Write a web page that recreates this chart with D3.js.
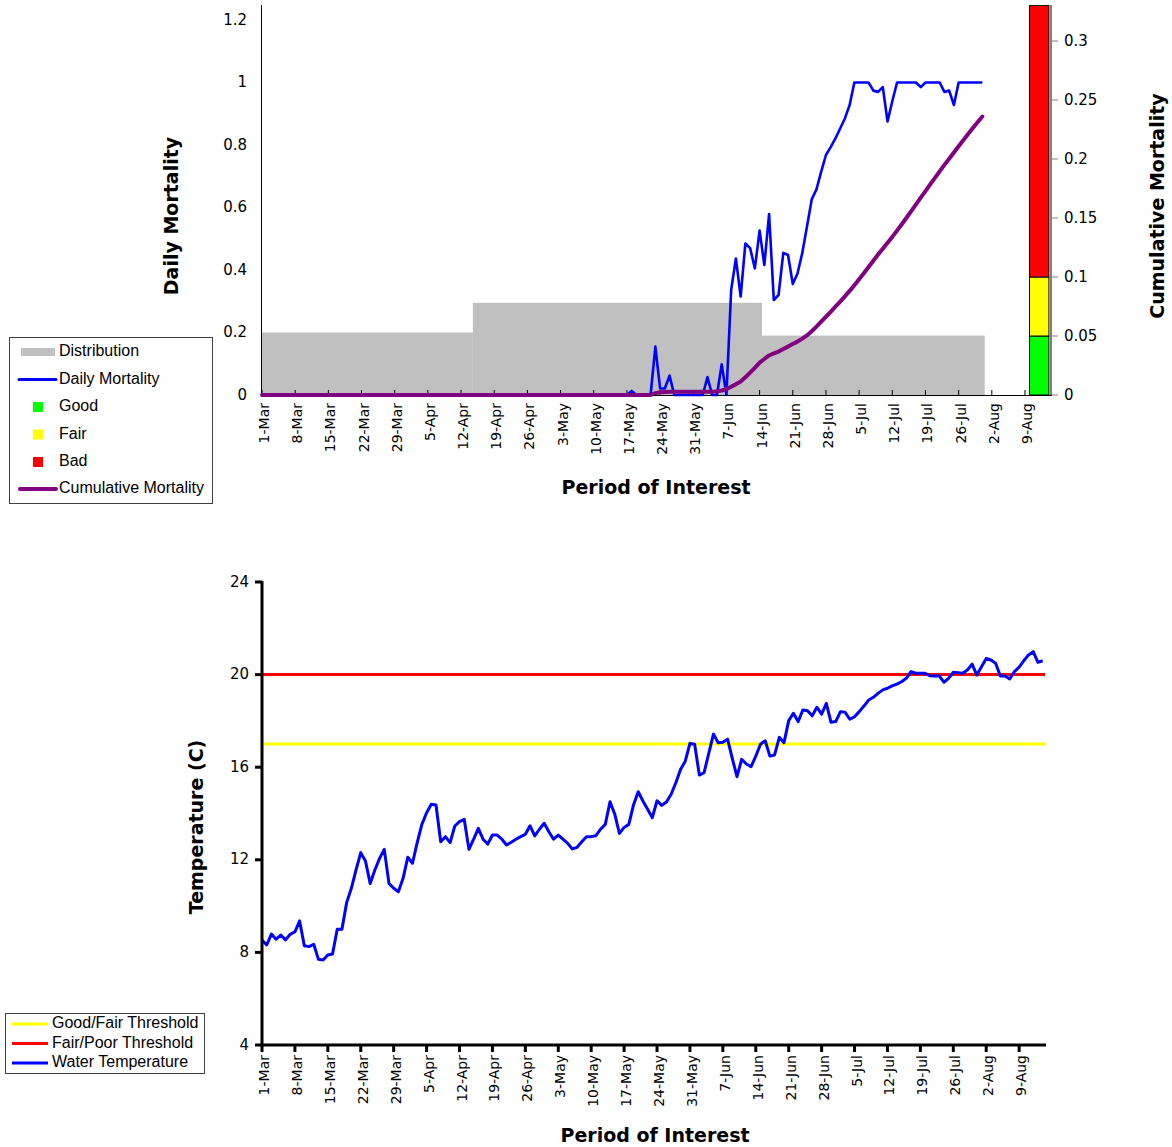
<!DOCTYPE html>
<html>
<head>
<meta charset="utf-8">
<script src="https://cdn.jsdelivr.net/npm/d3@7"></script>
<style>
  html, body { margin: 0; padding: 0; background: #fff; }
  svg { display: block; }
</style>
</head>
<body>
<svg id="chart" width="1172" height="1147"></svg>
<script>
// ---- Data -------------------------------------------------------------
const seasonStart = "1-Mar";            // first day of every daily series
const tickLabels = ["1-Mar","8-Mar","15-Mar","22-Mar","29-Mar","5-Apr","12-Apr","19-Apr",
  "26-Apr","3-May","10-May","17-May","24-May","31-May","7-Jun","14-Jun","21-Jun","28-Jun",
  "5-Jul","12-Jul","19-Jul","26-Jul","2-Aug","9-Aug"];

// Daily mortality, 1-Mar .. 31-Jul
const dailyMortality = [
  0,0,0,0,0,0,0,0,0,0, 0,0,0,0,0,0,0,0,0,0,
  0,0,0,0,0,0,0,0,0,0, 0,0,0,0,0,0,0,0,0,0,
  0,0,0,0,0,0,0,0,0,0, 0,0,0,0,0,0,0,0,0,0,
  0,0,0,0,0,0,0,0,0,0, 0,0,0,0,0,0,0,0,0.013,0,
  0,0,0,0.155,0.021,0.021,0.062,0,0,0, 0,0,0,0,0.057,0,0,0.098,0,0.336,
  0.437,0.315,0.485,0.47,0.405,0.526,0.416,0.579,0.304,0.32,
  0.455,0.448,0.355,0.389,0.454,0.539,0.626,0.658,0.715,0.768,
  0.793,0.821,0.853,0.885,0.928,1,1,1,1,0.974,
  0.97,0.985,0.875,0.94,1,1,1,1,1,0.985,
  1,1,1,1,0.97,0.974,0.928,1,1,1,
  1,1,1
];

// Cumulative mortality (right axis), 1-Mar .. 31-Jul
const cumulativeMortality = [
  0,0,0,0,0,0,0,0,0,0, 0,0,0,0,0,0,0,0,0,0,
  0,0,0,0,0,0,0,0,0,0, 0,0,0,0,0,0,0,0,0,0,
  0,0,0,0,0,0,0,0,0,0, 0,0,0,0,0,0,0,0,0,0,
  0,0,0,0,0,0,0,0,0,0, 0,0,0,0,0,0,0,0,0,0,
  0,0,0,0.0015,0.0024,0.0026,0.0027,0.0028,0.0028,0.0028,
  0.0028,0.0028,0.0028,0.0028,0.0028,0.0028,0.0032,0.0038,0.0050,0.0070,
  0.0092,0.0115,0.0150,0.0190,0.0230,0.0275,0.0305,0.0335,0.0352,0.0368,
  0.0390,0.0410,0.0432,0.0452,0.0478,0.0505,0.0540,0.0580,0.0622,0.0663,
  0.0705,0.0748,0.0792,0.0836,0.0882,0.0930,0.0980,0.1032,0.1085,0.1138,
  0.1190,0.1240,0.1290,0.1340,0.1393,0.1447,0.1502,0.1558,0.1615,0.1672,
  0.1728,0.1785,0.1840,0.1895,0.1950,0.2002,0.2055,0.2108,0.2160,0.2212,
  0.2263,0.2312,0.2360
];

// Distribution periods
const distStart = ["1-Mar", "15-Apr", "15-Jun"];
const distEnd   = ["14-Apr", "14-Jun", "31-Jul"];
const distValue = [0.2, 0.295, 0.19];

// Cumulative mortality condition bands
const bandNames  = ["Good", "Fair", "Bad"];
const bandLow    = [0, 0.05, 0.1];
const bandHigh   = [0.05, 0.1, 0.33];
const bandColors = ["#00ff00", "#ffff00", "#ff0000"];
const bandDate   = "12-Aug";

// Water temperature (C), 1-Mar .. 14-Aug
const waterTemp = [
  8.54,8.32,8.79,8.57,8.75,8.54,8.78,8.89,9.36,8.29,
  8.25,8.35,7.70,7.67,7.89,7.93,9.0,9.0,10.15,10.77,
  11.56,12.31,11.95,10.98,11.56,12.06,12.45,10.98,10.77,10.62,
  11.2,12.11,11.85,12.74,13.53,14.03,14.40,14.37,12.78,13.0,
  12.74,13.46,13.65,13.75,12.45,12.89,13.36,12.89,12.68,13.07,
  13.07,12.89,12.64,12.76,12.89,13.0,13.10,13.47,13.03,13.32,
  13.58,13.21,12.89,13.07,12.89,12.71,12.47,12.54,12.78,13.0,
  13.0,13.04,13.32,13.53,14.51,13.98,13.14,13.40,13.53,14.37,
  14.94,14.54,14.18,13.82,14.55,14.35,14.5,14.83,15.33,15.9,
  16.26,17.03,16.99,15.66,15.76,16.60,17.43,17.06,17.08,17.21,
  16.38,15.59,16.34,16.14,16.02,16.48,16.99,17.14,16.48,16.53,
  17.29,17.06,18.01,18.33,17.97,18.47,18.44,18.22,18.59,18.29,
  18.76,17.94,17.97,18.40,18.37,18.07,18.18,18.40,18.64,18.90,
  19.02,19.19,19.34,19.41,19.51,19.59,19.69,19.84,20.13,20.06,
  20.06,20.06,19.95,19.94,19.95,19.67,19.84,20.10,20.08,20.06,
  20.20,20.45,19.98,20.34,20.70,20.63,20.49,19.94,19.94,19.81,
  20.13,20.32,20.60,20.85,20.99,20.53,20.60
];

const goodFairThreshold = 17;
const fairPoorThreshold = 20;
const mortTicks = [0, 0.2, 0.4, 0.6, 0.8, 1, 1.2];
const cumTicks  = [0, 0.05, 0.1, 0.15, 0.2, 0.25, 0.3];
const tempTicks = [4, 8, 12, 16, 20, 24];

// ---- Helpers ----------------------------------------------------------
const parseDay = d3.utcParse("%d-%b-%Y");
const toDate = s => parseDay(s + "-2007");
const DAY = 864e5;
const t0 = toDate(seasonStart);
const dayDate = i => new Date(t0.getTime() + i * DAY);
const tickDates = tickLabels.map(toDate);

const svg = d3.select("#chart");
const numFont = "'DejaVu Sans', Verdana, sans-serif";
const legFont = "'Liberation Sans', Arial, sans-serif";
const titleSize = "19px";

function dateAxisLabels(g, x, y0) {
  g.selectAll("text.dl").data(tickLabels).join("text")
    .attr("class", "dl")
    .attr("transform", (d, i) => `translate(${x(tickDates[i]) + 3},${y0}) rotate(-90)`)
    .attr("text-anchor", "end")
    .attr("dominant-baseline", "middle")
    .style("font-family", numFont).style("font-size", "14px").style("fill", "#000")
    .text(d => d);
}

function boldTitle(g, text, x, y, rotate) {
  g.append("text")
    .attr("transform", rotate ? `translate(${x},${y}) rotate(-90)` : `translate(${x},${y})`)
    .attr("text-anchor", "middle")
    .style("font-family", numFont).style("font-size", titleSize).style("font-weight", "bold")
    .text(text);
}

// ---- Upper chart: mortality -------------------------------------------
const topEnd = new Date(t0.getTime() + 166.7 * DAY);
const xTop = d3.scaleUtc().domain([t0, topEnd]).range([262, 1052]);
const yMort = d3.scaleLinear().domain([0, 1.2]).range([395, 20]);
const yCum = d3.scaleLinear().domain([0, 0.3]).range([395, 41]);

const upper = svg.append("g");

// distribution blocks
const distX0 = i => Math.max(xTop.range()[0], xTop(new Date(toDate(distStart[i]).getTime() - 0.5 * DAY)));
const distX1 = i => xTop(new Date(toDate(distEnd[i]).getTime() + 0.5 * DAY));
upper.selectAll("rect.dist").data(distValue).join("rect")
  .attr("class", "dist")
  .attr("x", (d, i) => distX0(i))
  .attr("width", (d, i) => distX1(i) - distX0(i))
  .attr("y", d => yMort(d))
  .attr("height", d => yMort(0) - yMort(d))
  .attr("fill", "#c0c0c0");

// condition band column on the cumulative axis
const bandCenter = toDate(bandDate).getTime();
const bx0 = xTop(new Date(bandCenter - 2.05 * DAY));
const bx1 = xTop(new Date(bandCenter + 2.05 * DAY));
upper.selectAll("rect.band").data(bandNames).join("rect")
  .attr("class", "band")
  .attr("x", bx0).attr("width", bx1 - bx0)
  .attr("y", (d, i) => yCum(bandHigh[i]))
  .attr("height", (d, i) => yCum(bandLow[i]) - yCum(bandHigh[i]))
  .attr("fill", (d, i) => bandColors[i])
  .attr("stroke", "#000").attr("stroke-width", 1);

// left axis line
upper.append("line").attr("x1", 261.5).attr("x2", 261.5).attr("y1", 5).attr("y2", 395)
  .attr("stroke", "#000").attr("stroke-width", 1);
// left tick labels
upper.selectAll("text.ml").data(mortTicks).join("text")
  .attr("class", "ml")
  .attr("x", 247).attr("y", d => yMort(d))
  .attr("text-anchor", "end").attr("dominant-baseline", "middle")
  .style("font-family", numFont).style("font-size", "15px")
  .text(d => d);

// right axis
upper.append("line").attr("x1", 1051).attr("x2", 1051).attr("y1", 5).attr("y2", 395)
  .attr("stroke", "#808080").attr("stroke-width", 2);
upper.selectAll("line.ct").data(cumTicks).join("line")
  .attr("class", "ct")
  .attr("x1", 1051).attr("x2", 1058)
  .attr("y1", d => yCum(d)).attr("y2", d => yCum(d))
  .attr("stroke", "#808080").attr("stroke-width", 1);
upper.selectAll("text.cl").data(cumTicks).join("text")
  .attr("class", "cl")
  .attr("x", 1064).attr("y", d => yCum(d))
  .attr("dominant-baseline", "middle")
  .style("font-family", numFont).style("font-size", "15px")
  .text(d => d);

// horizontal axis
upper.append("line").attr("x1", 261.5).attr("x2", 1052).attr("y1", 395.5).attr("y2", 395.5)
  .attr("stroke", "#000").attr("stroke-width", 1);
upper.selectAll("line.xt").data(tickDates).join("line")
  .attr("class", "xt")
  .attr("x1", d => xTop(d)).attr("x2", d => xTop(d))
  .attr("y1", 390).attr("y2", 395)
  .attr("stroke", "#000").attr("stroke-width", 1);
dateAxisLabels(upper, xTop, 403);

// daily mortality line
upper.append("path")
  .datum(dailyMortality)
  .attr("fill", "none").attr("stroke", "#0000ff").attr("stroke-width", 2.6)
  .attr("stroke-linejoin", "round")
  .attr("d", d3.line().x((d, i) => xTop(dayDate(i))).y(d => yMort(d)));

// cumulative mortality line
upper.append("path")
  .datum(cumulativeMortality)
  .attr("fill", "none").attr("stroke", "#800080").attr("stroke-width", 4)
  .attr("stroke-linejoin", "round").attr("stroke-linecap", "round")
  .attr("d", d3.line().x((d, i) => xTop(dayDate(i))).y(d => yCum(d)));

// titles
boldTitle(upper, "Daily Mortality", 178, 216, true);
boldTitle(upper, "Cumulative Mortality", 1164, 206, true);
boldTitle(upper, "Period of Interest", 656, 494, false);

// upper legend
const leg1 = svg.append("g");
leg1.append("rect").attr("x", 9.5).attr("y", 337.5).attr("width", 203).attr("height", 166)
  .attr("fill", "#fff").attr("stroke", "#404040").attr("stroke-width", 1);
const leg1Items = ["Distribution", "Daily Mortality", "Good", "Fair", "Bad", "Cumulative Mortality"];
const leg1Y = [352, 379.5, 407, 434.5, 462, 489];
leg1Items.forEach((name, i) => {
  const cy = leg1Y[i];
  if (name === "Distribution") {
    leg1.append("rect").attr("x", 21).attr("y", cy - 4).attr("width", 34).attr("height", 8).attr("fill", "#c0c0c0");
  } else if (name === "Daily Mortality") {
    leg1.append("line").attr("x1", 19).attr("x2", 56).attr("y1", cy).attr("y2", cy)
      .attr("stroke", "#0000ff").attr("stroke-width", 3).attr("stroke-linecap", "round");
  } else if (name === "Cumulative Mortality") {
    leg1.append("line").attr("x1", 20).attr("x2", 56).attr("y1", cy).attr("y2", cy)
      .attr("stroke", "#800080").attr("stroke-width", 4).attr("stroke-linecap", "round");
  } else {
    const bi = bandNames.indexOf(name);
    leg1.append("rect").attr("x", 33).attr("y", cy - 5).attr("width", 10).attr("height", 10).attr("fill", bandColors[bi]);
  }
  leg1.append("text").attr("x", 59).attr("y", cy).attr("dominant-baseline", "middle")
    .style("font-family", legFont).style("font-size", "16px").text(name);
});

// ---- Lower chart: water temperature -----------------------------------
const botEnd = new Date(t0.getTime() + 166.5 * DAY);
const xBot = d3.scaleUtc().domain([t0, botEnd]).range([262, 1045]);
const yTemp = d3.scaleLinear().domain([4, 24]).range([1045, 582]);

const lower = svg.append("g");

// threshold lines
lower.append("line").attr("x1", 262).attr("x2", 1045)
  .attr("y1", yTemp(goodFairThreshold)).attr("y2", yTemp(goodFairThreshold))
  .attr("stroke", "#ffff00").attr("stroke-width", 3);
lower.append("line").attr("x1", 262).attr("x2", 1045)
  .attr("y1", yTemp(fairPoorThreshold)).attr("y2", yTemp(fairPoorThreshold))
  .attr("stroke", "#ff0000").attr("stroke-width", 3);

// water temperature line
lower.append("path")
  .datum(waterTemp)
  .attr("fill", "none").attr("stroke", "#0000ff").attr("stroke-width", 3)
  .attr("stroke-linejoin", "round")
  .attr("d", d3.line().x((d, i) => xBot(dayDate(i))).y(d => yTemp(d)));

// axes
lower.append("line").attr("x1", 262).attr("x2", 262).attr("y1", 581).attr("y2", 1046.5)
  .attr("stroke", "#000").attr("stroke-width", 3);
lower.append("line").attr("x1", 260.5).attr("x2", 1046).attr("y1", 1045).attr("y2", 1045)
  .attr("stroke", "#000").attr("stroke-width", 3);
lower.selectAll("line.yt").data(tempTicks).join("line")
  .attr("class", "yt")
  .attr("x1", 255).attr("x2", 262)
  .attr("y1", d => yTemp(d)).attr("y2", d => yTemp(d))
  .attr("stroke", "#000").attr("stroke-width", 3);
lower.selectAll("text.tl").data(tempTicks).join("text")
  .attr("class", "tl")
  .attr("x", 249).attr("y", d => yTemp(d))
  .attr("text-anchor", "end").attr("dominant-baseline", "middle")
  .style("font-family", numFont).style("font-size", "15px")
  .text(d => d);
lower.selectAll("line.xt").data(tickDates).join("line")
  .attr("class", "xt")
  .attr("x1", d => xBot(d)).attr("x2", d => xBot(d))
  .attr("y1", 1045).attr("y2", 1052)
  .attr("stroke", "#000").attr("stroke-width", 3);
dateAxisLabels(lower, xBot, 1055);

boldTitle(lower, "Temperature (C)", 203, 827, true);
boldTitle(lower, "Period of Interest", 655, 1142, false);

// lower legend
const leg2 = svg.append("g");
leg2.append("rect").attr("x", 5.5).attr("y", 1013.5).attr("width", 199).attr("height", 60)
  .attr("fill", "#fff").attr("stroke", "#404040").attr("stroke-width", 1);
const leg2Items = ["Good/Fair Threshold", "Fair/Poor Threshold", "Water Temperature"];
const leg2Colors = ["#ffff00", "#ff0000", "#0000ff"];
const leg2Y = [1024, 1043.5, 1063];
leg2Items.forEach((name, i) => {
  leg2.append("line").attr("x1", 12).attr("x2", 48).attr("y1", leg2Y[i]).attr("y2", leg2Y[i])
    .attr("stroke", leg2Colors[i]).attr("stroke-width", 3);
  leg2.append("text").attr("x", 52).attr("y", leg2Y[i]).attr("dominant-baseline", "middle")
    .style("font-family", legFont).style("font-size", "16px").text(name);
});
</script>
</body>
</html>
